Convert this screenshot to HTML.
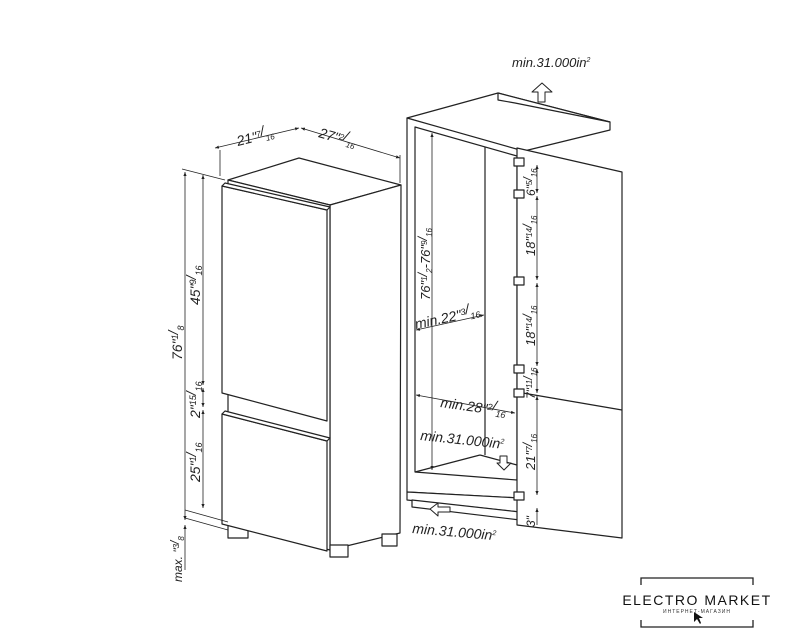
<!DOCTYPE html>
<html><head><meta charset="utf-8"><style>
html,body{margin:0;padding:0;background:#fff;}
svg{display:block;font-family:"Liberation Sans",sans-serif;}
</style></head><body>
<svg width="791" height="640" viewBox="0 0 791 640" xmlns="http://www.w3.org/2000/svg">
<defs>
<marker id="a" viewBox="0 0 10 10" refX="10" refY="5" markerWidth="5" markerHeight="5" orient="auto-start-reverse"><path d="M0,1 L10,5 L0,9 z" fill="#222"/></marker>
</defs>
<g fill="#fff" stroke="#222" stroke-width="1.2" stroke-linejoin="round">
<polygon points="228,180 299,158 401,185 330,205"/>
<polygon points="330,205 401,185 400,533 330,550"/>
<polygon points="228,180 330,205 330,550 228,525"/>
<rect x="228" y="524" width="20" height="14"/>
<rect x="330" y="545" width="18" height="12"/>
<rect x="382" y="534" width="15" height="12"/>
<polygon points="222,186 327,210 327,421 222,393"/>
<polygon points="222,186 225,183 330,207 327,210"/>
<polygon points="222,414 327,441 327,551 222,524"/>
<polygon points="222,414 225,411 330,438 327,441"/>
<polygon points="407,118 498,93 610,122 610,130 520,152"/>
<polygon points="498,93 498,100 515,103 610,122"/>
<polygon points="407,118 520,150 520,498 407,492"/>
<polygon points="415,127 517,156 517,480 415,472" fill="#fff"/>
<line x1="415" y1="472" x2="480" y2="455"/>
<line x1="480" y1="455" x2="517" y2="465"/>
<line x1="485" y1="147" x2="485" y2="455"/>
<polygon points="407,492 520,498 520,512 407,500"/>
<polygon points="412,500 520,512 520,520 412,507"/>
<polygon points="517,148 622,172 622,538 517,525"/>
<line x1="517" y1="392" x2="622" y2="410"/>
<rect x="514" y="158" width="10" height="8"/>
<rect x="514" y="190" width="10" height="8"/>
<rect x="514" y="277" width="10" height="8"/>
<rect x="514" y="365" width="10" height="8"/>
<rect x="514" y="389" width="10" height="8"/>
<rect x="514" y="492" width="10" height="8"/>
<polygon points="538,102 545,102 545,92 552,92 542,83 532,92 538,92" stroke-width="1"/>
<polygon points="500,456 507,456 507,463 511,463 504,470 497,463 500,463" stroke-width="1"/>
<polygon points="430,509 438,503 438,507 450,507 450,512 438,512 438,516" stroke-width="1"/>
</g>
<g stroke="#222" stroke-width="0.8" fill="none">
<line x1="215" y1="148" x2="299" y2="128" marker-start="url(#a)" marker-end="url(#a)"/>
<line x1="301" y1="128" x2="400" y2="158" marker-start="url(#a)" marker-end="url(#a)"/>
<line x1="220" y1="150" x2="220" y2="176"/><line x1="400" y1="155" x2="400" y2="183"/>
<line x1="185" y1="172" x2="185" y2="520" marker-start="url(#a)" marker-end="url(#a)"/>
<line x1="203" y1="175" x2="203" y2="385" marker-start="url(#a)" marker-end="url(#a)"/>
<line x1="203" y1="388" x2="203" y2="407" marker-start="url(#a)" marker-end="url(#a)"/>
<line x1="203" y1="410" x2="203" y2="508" marker-start="url(#a)" marker-end="url(#a)"/>
<line x1="185" y1="510" x2="228" y2="522"/><line x1="185" y1="518" x2="228" y2="530"/>
<line x1="182" y1="169" x2="225" y2="180"/>
<line x1="185" y1="525" x2="185" y2="570" marker-start="url(#a)"/>
<line x1="432" y1="133" x2="432" y2="470" marker-start="url(#a)" marker-end="url(#a)"/>
<line x1="416" y1="330" x2="484" y2="315" marker-start="url(#a)" marker-end="url(#a)"/>
<line x1="416" y1="395" x2="515" y2="413" marker-start="url(#a)" marker-end="url(#a)"/>
<line x1="537" y1="165" x2="537" y2="193" marker-start="url(#a)" marker-end="url(#a)"/>
<line x1="537" y1="196" x2="537" y2="280" marker-start="url(#a)" marker-end="url(#a)"/>
<line x1="537" y1="283" x2="537" y2="366" marker-start="url(#a)" marker-end="url(#a)"/>
<line x1="537" y1="369" x2="537" y2="393" marker-start="url(#a)" marker-end="url(#a)"/>
<line x1="537" y1="396" x2="537" y2="495" marker-start="url(#a)" marker-end="url(#a)"/>
<line x1="537" y1="508" x2="537" y2="525" marker-start="url(#a)"/>
</g>
<g fill="#222" font-style="italic" font-size="14">
<text x="238" y="146" transform="rotate(-14 238 146)">21"<tspan font-size="8" dy="-4">7</tspan>/<tspan font-size="8" dy="6">16</tspan></text>
<text x="318" y="137" transform="rotate(16 318 137)">27"<tspan font-size="8" dy="-4">2</tspan>/<tspan font-size="8" dy="6">16</tspan></text>
<text transform="translate(182,360) rotate(-90)">76"<tspan font-size="9" dy="-4">1</tspan>/<tspan font-size="9" dy="6">8</tspan></text>
<text transform="translate(200,305) rotate(-90)">45"<tspan font-size="9" dy="-4">9</tspan>/<tspan font-size="9" dy="6">16</tspan></text>
<text transform="translate(200,418) rotate(-90)">2"<tspan font-size="9" dy="-4">15</tspan>/<tspan font-size="9" dy="6">16</tspan></text>
<text transform="translate(200,482) rotate(-90)">25"<tspan font-size="9" dy="-4">1</tspan>/<tspan font-size="9" dy="6">16</tspan></text>
<text transform="translate(182,582) rotate(-90)" font-size="12">max. "<tspan font-size="8" dy="-3">3</tspan>/<tspan font-size="8" dy="5">8</tspan></text>
<text x="512" y="67" font-size="13">min.31.000in<tspan font-size="7" dy="-5">2</tspan></text>
<text transform="translate(430,300) rotate(-90)" font-size="13">76"<tspan font-size="8" dy="-3">1</tspan>/<tspan font-size="8" dy="5">2</tspan><tspan dy="-2">-76"</tspan><tspan font-size="8" dy="-3">9</tspan>/<tspan font-size="8" dy="5">16</tspan></text>
<text x="416" y="329" transform="rotate(-12 416 329)">min.22"<tspan font-size="9" dy="-4">3</tspan>/<tspan font-size="9" dy="6">16</tspan></text>
<text x="440" y="407" transform="rotate(8 440 407)">min.28"<tspan font-size="9" dy="-4">2</tspan>/<tspan font-size="9" dy="6">16</tspan></text>
<text x="420" y="440" transform="rotate(6 420 440)">min.31.000in<tspan font-size="7" dy="-5">2</tspan></text>
<text x="412" y="533" transform="rotate(5 412 533)">min.31.000in<tspan font-size="7" dy="-5">2</tspan></text>
<text transform="translate(535,196) rotate(-90)" font-size="12">6"<tspan font-size="8" dy="-3">5</tspan>/<tspan font-size="8" dy="5">16</tspan></text>
<text transform="translate(535,256) rotate(-90)" font-size="13">18"<tspan font-size="8" dy="-3">14</tspan>/<tspan font-size="8" dy="5">16</tspan></text>
<text transform="translate(535,346) rotate(-90)" font-size="13">18"<tspan font-size="8" dy="-3">14</tspan>/<tspan font-size="8" dy="5">16</tspan></text>
<text transform="translate(535,399) rotate(-90)" font-size="12">7"<tspan font-size="8" dy="-3">11</tspan>/<tspan font-size="8" dy="5">16</tspan></text>
<text transform="translate(535,470) rotate(-90)" font-size="13">21"<tspan font-size="8" dy="-3">7</tspan>/<tspan font-size="8" dy="5">16</tspan></text>
<text transform="translate(535,527) rotate(-90)" font-size="12">3"</text>
</g>
<g stroke="#222" stroke-width="1.3" fill="none">
<path d="M641,585 V578 H753 V585"/>
<path d="M641,620 V627 H753 V620"/>
</g>
<text x="697" y="605" text-anchor="middle" font-size="14" letter-spacing="1.5" fill="#111">ELECTRO MARKET</text>
<text x="697" y="613" text-anchor="middle" font-size="5" letter-spacing="1" fill="#333">ИНТЕРНЕТ-МАГАЗИН</text>
<path d="M694,612 L694,622 L697,619 L700,624 L701,623 L699,618 L703,618 z" fill="#111"/>
</svg>
</body></html>
